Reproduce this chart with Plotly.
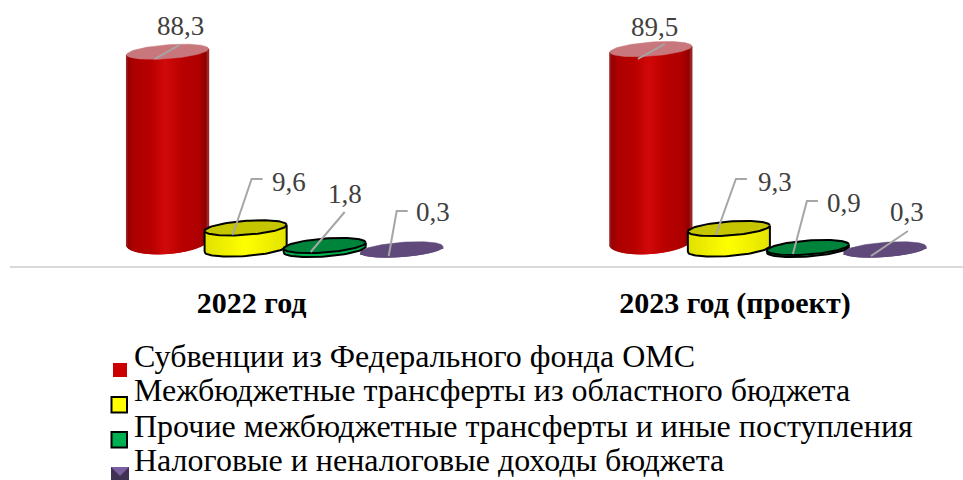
import numpy as np
import plotly.graph_objects as go

categories = ["2022 год", "2023 год (проект)"]
series_names = [
    "Субвенции из Федерального фонда ОМС",
    "Межбюджетные трансферты из областного бюджета",
    "Прочие межбюджетные трансферты и иные поступления",
    "Налоговые и неналоговые доходы бюджета",
]
subventions = [88.3, 89.5]
regional = [9.6, 9.3]
other = [1.8, 0.9]
tax = [0.3, 0.3]
series_values = [subventions, regional, other, tax]

W, H = 963, 480
AX_Y = 267
PX_PER_CAT = 483.0
CAT0_PX = 252.0
PX_PER_VAL = 2.2
ZERO_PX = 249.0

def dx(px):
    return px / PX_PER_CAT

def y_of(py):
    return (ZERO_PX - py) / PX_PER_VAL

def X(px):
    return (px - CAT0_PX) / PX_PER_CAT

# per-series drawing styles
offset_px = [-84, -6, 73, 150]
base_shift = [-3, 0, 0.5, 1]
A, B, SHEAR = 41.0, 7.0, 3.0
foot_b = [12.0, 7.0, 7.0, 7.0]
foot_lift = [4.0, 0.0, 0.0, 0.0]
z_order = [0, 2, 3, 1]
top_fill = ["#C8787C", "#C6C600", "#00843C", "#604A7B"]
outlined = [False, True, True, False]
body_stops = [
    [(0, "#A03030"), (0.03, "#980000"), (0.1, "#AE0000"), (0.3, "#B80000"), (0.48, "#D20A0A"), (0.7, "#B80000"), (0.9, "#AE0000"), (0.97, "#900000"), (1, "#A03030")],
    [(0, "#E0E000"), (0.5, "#FFFF00"), (1, "#E4E400")],
    [(0, "#00B050"), (1, "#00B050")],
    [(0, "#604A7B"), (1, "#604A7B")],
]

def hex2rgb(h):
    return np.array([int(h[i:i + 2], 16) for i in (1, 3, 5)], float)

def shade(stops, u):
    for (u0, c0), (u1, c1) in zip(stops, stops[1:]):
        if u <= u1:
            t = (u - u0) / (u1 - u0)
            c = hex2rgb(c0) * (1 - t) + hex2rgb(c1) * t
            return "rgb(%d,%d,%d)" % tuple(c)
    return stops[-1][1]

fig = go.Figure()
N = 82
tt = np.linspace(0, 2 * np.pi, 90)

for s, vals in enumerate(series_values):
    for c, v in enumerate(vals):
        cx = c + dx(offset_px[s])
        base_val = y_of(ZERO_PX + base_shift[s])
        top_val = base_val + v
        # cylinder body as narrow strips, the lower end following the base curve
        us = (np.arange(N) + 0.5) / N
        xs_px = (2 * us - 1) * A
        low = base_val + (foot_lift[s] + xs_px / A * SHEAR - foot_b[s] * np.sqrt(np.clip(1 - (xs_px / A) ** 2, 0, 1))) / PX_PER_VAL
        top = top_val + xs_px / A * SHEAR / PX_PER_VAL
        fig.add_trace(go.Bar(
            x=cx + dx(xs_px), y=top - low, base=low,
            width=dx(2 * A / N * 2.2),
            marker=dict(color=[shade(body_stops[s], u) for u in us], line=dict(width=0)),
            showlegend=False, hoverinfo="skip", zorder=z_order[s],
        ))
        ex = cx + dx(A * np.cos(tt))
        ey_top = top_val + (SHEAR * np.cos(tt) + B * np.sin(tt)) / PX_PER_VAL
        if outlined[s]:
            # silhouette: left side, lower arc of the base, right side
            ang = np.linspace(np.pi, 2 * np.pi, 45)
            sx = cx + dx(A * np.cos(ang))
            sy = base_val + (SHEAR * np.cos(ang) + B * np.sin(ang)) / PX_PER_VAL
            fig.add_trace(go.Scatter(
                x=sx, y=sy, mode="lines", line=dict(color="black", width=2),
                showlegend=False, hoverinfo="skip", zorder=z_order[s],
            ))
            fig.add_trace(go.Scatter(
                x=[sx[0], sx[0]], y=[sy[0], top_val - SHEAR / PX_PER_VAL], mode="lines",
                line=dict(color="black", width=2), showlegend=False, hoverinfo="skip", zorder=z_order[s],
            ))
            fig.add_trace(go.Scatter(
                x=[sx[-1], sx[-1]], y=[sy[-1], top_val + SHEAR / PX_PER_VAL], mode="lines",
                line=dict(color="black", width=2), showlegend=False, hoverinfo="skip", zorder=z_order[s],
            ))
        fig.add_trace(go.Scatter(
            x=ex, y=ey_top, mode="lines", fill="toself", fillcolor=top_fill[s],
            line=dict(color="black" if outlined[s] else top_fill[s], width=2 if outlined[s] else 0.5),
            showlegend=False, hoverinfo="skip", zorder=z_order[s],
        ))

# leader lines, in pixels relative to the page (style only)
leaders = [
    [(155, 59), (180, 45)],
    [(233, 235), (252, 179), (263, 179)],
    [(311, 252), (345, 212)],
    [(389, 256), (397, 211), (408, 211)],
    [(638, 59), (665, 44)],
    [(716, 235), (736, 179), (747, 179)],
    [(793, 254), (807, 201), (818, 201)],
    [(871, 256), (908, 231)],
]
for pts in leaders:
    fig.add_trace(go.Scatter(
        x=[X(p[0]) for p in pts], y=[y_of(p[1]) for p in pts], mode="lines",
        line=dict(color="#A6A6A6", width=2), showlegend=False, hoverinfo="skip", zorder=10,
    ))

label_pos = [(180, 26), (289, 182), (345, 194), (433, 212), (654, 27), (775, 182), (844, 203), (907, 212)]
label_vals = [v for c in range(2) for v in (subventions[c], regional[c], other[c], tax[c])]
annotations = []
for (px, py), v in zip(label_pos, label_vals):
    annotations.append(dict(
        x=px / W, y=1 - py / H, xref="paper", yref="paper", showarrow=False,
        text=f"{v:.1f}".replace(".", ","), xanchor="center", yanchor="middle",
        font=dict(family="Liberation Serif", size=27, color="#404040"),
    ))

legend_y = [356, 390, 426, 460]
for name, py in zip(series_names, legend_y):
    annotations.append(dict(
        x=132 / W, y=1 - py / H, xref="paper", yref="paper", showarrow=False,
        text=name, xanchor="left", yanchor="middle",
        font=dict(family="Liberation Serif", size=32, color="black"),
    ))

def rect(x0, y0, x1, y1, fill, line=None, lw=0):
    return dict(type="rect", xref="paper", yref="paper", x0=x0 / W, x1=x1 / W,
                y0=1 - y0 / H, y1=1 - y1 / H, fillcolor=fill,
                line=dict(color=line or fill, width=lw))

shapes = [
    dict(type="line", xref="paper", yref="paper", x0=10 / W, x1=1,
         y0=1 - AX_Y / H, y1=1 - AX_Y / H, line=dict(color="#D9D9D9", width=2)),
    rect(113, 363, 127, 377, "#CC0000"),
    rect(111.5, 397, 127, 412.5, "#FFFF00", "black", 2),
    rect(111.5, 432, 127, 447.5, "#00B050", "black", 2),
    rect(111, 467, 129, 480, "#3F3151"),
    dict(type="path", xref="paper", yref="paper",
         path=f"M {111/W} {1-467/H} L {129/W} {1-467/H} L {120/W} {1-476/H} Z",
         fillcolor="#7A5FA0", line=dict(width=0)),
]

fig.update_layout(
    width=W, height=H, margin=dict(l=0, r=0, t=0, b=0),
    paper_bgcolor="white", plot_bgcolor="white", barmode="overlay",
    showlegend=False, annotations=annotations, shapes=shapes,
    xaxis=dict(
        domain=[10 / W, 1], range=[-0.5, (W - CAT0_PX) / PX_PER_CAT],
        tickmode="array", tickvals=[0, 1], ticktext=[f"<b>{c}</b>" for c in categories],
        tickfont=dict(family="Liberation Serif", size=30, color="black"),
        ticks="outside", ticklen=9, tickcolor="rgba(0,0,0,0)",
        showgrid=False, zeroline=False, showline=False,
    ),
    yaxis=dict(
        domain=[1 - AX_Y / H, 1], range=[y_of(AX_Y), y_of(0)],
        visible=False, showgrid=False, zeroline=False,
    ),
)
fig.write_html("out.html", config=dict(displayModeBar=False), post_script="document.body.style.margin='0';")
